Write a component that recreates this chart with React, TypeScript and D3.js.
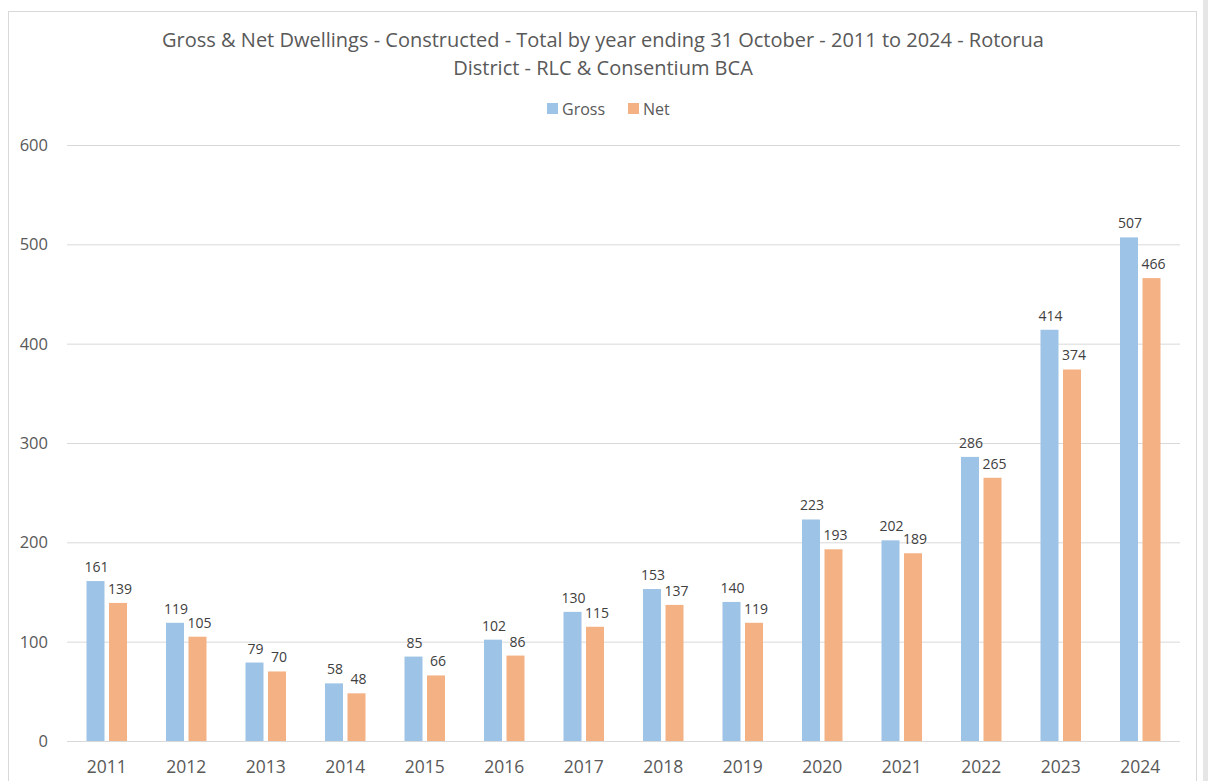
import React from "react";
import * as d3 from "d3";

const years = ["2011","2012","2013","2014","2015","2016","2017","2018","2019","2020","2021","2022","2023","2024"];
const gross = [161,119,79,58,85,102,130,153,140,223,202,286,414,507];
const net = [139,105,70,48,66,86,115,137,119,193,189,265,374,466];
const yTicks = [0,100,200,300,400,500,600];
const titleLines = [
  "Gross & Net Dwellings - Constructed - Total by year ending 31 October - 2011 to 2024 - Rotorua",
  "District - RLC & Consentium BCA",
];
const seriesNames = ["Gross","Net"];
const colors = ["#9DC3E6","#F4B183"];

export default function App() {
  const W = 1208, H = 781;
  const left = 67, right = 1180, top = 145, bottom = 741;
  const x = d3.scaleBand<string>().domain(years).range([left, right]).paddingInner(0).paddingOuter(0);
  const y = d3.scaleLinear().domain([0, 600]).range([bottom, top]);
  const bw = 18, gap = 4.5;
  const font = "'Open Sans', 'Noto Sans', sans-serif";
  const txt = "#595959";
  const series = [gross, net];
  return (
    <svg width={W} height={H} style={{ position: "absolute", left: 0, top: 0, background: "#fff" }} fontFamily={font}>
      <rect x={0} y={0} width={W} height={H} fill="#fff" />
      <rect x={1203} y={0} width={5} height={H} fill="#e6e6e6" />
      <rect x={8.5} y={11.5} width={1188} height={H} fill="#fff" stroke="#d9d9d9" strokeWidth={1} />
      {titleLines.map((t, i) => (
        <text key={i} x={603} y={47 + i * 28} textAnchor="middle" fontSize={20} fill={txt}>{t}</text>
      ))}
      {seriesNames.map((s, i) => {
        const lx = i === 0 ? 547 : 628;
        return (
          <g key={s}>
            <rect x={lx} y={103} width={11} height={11} fill={colors[i]} />
            <text x={lx + 15} y={115} fontSize={16} fill={txt}>{s}</text>
          </g>
        );
      })}
      {yTicks.map(t => (
        <g key={t}>
          <line x1={left} x2={right} y1={y(t) + 0.5} y2={y(t) + 0.5} stroke="#d9d9d9" strokeWidth={1} />
          <text x={48} y={y(t) + 6} textAnchor="end" fontSize={16.5} fill={txt}>{t}</text>
        </g>
      ))}
      {years.map((yr, i) => {
        const c = (x(yr) as number) + x.bandwidth() / 2;
        return (
          <g key={yr}>
            {series.map((vals, si) => {
              const bx = si === 0 ? c - gap / 2 - bw : c + gap / 2;
              const v = vals[i];
              return (
                <g key={si}>
                  <rect x={bx} y={y(v)} width={bw} height={bottom - y(v)} fill={colors[si]} />
                  <text x={bx + bw / 2 + (si === 0 ? 1 : 2)} y={y(v) - 9} textAnchor="middle" fontSize={14} fill="#404040">{v}</text>
                </g>
              );
            })}
            <text x={c} y={773} textAnchor="middle" fontSize={17.5} fill={txt}>{yr}</text>
          </g>
        );
      })}
    </svg>
  );
}
